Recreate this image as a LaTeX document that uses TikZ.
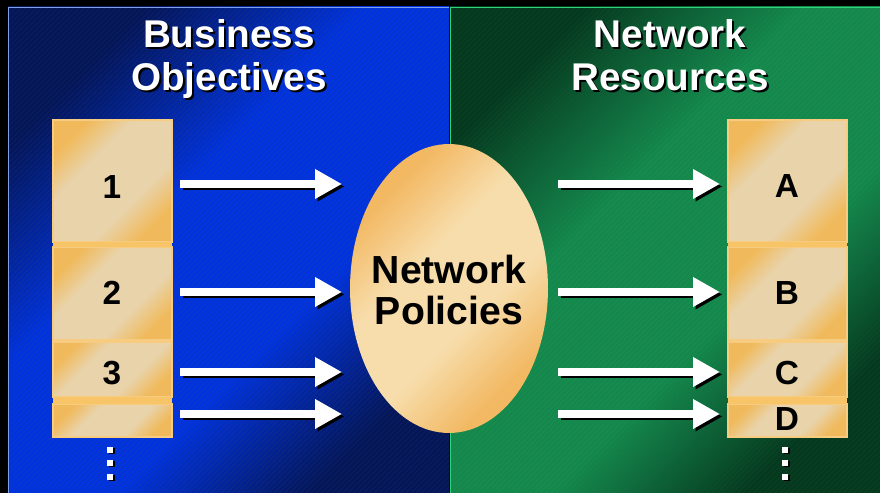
\documentclass[tikz,border=0pt]{standalone}
\usepackage{fontspec}
\setmainfont{Liberation Sans}
\usetikzlibrary{shapes.geometric, arrows.meta, calc, patterns}

\definecolor{bluedark}{HTML}{03165A}
\definecolor{bluemid}{HTML}{0033E0}
\definecolor{blueedge}{HTML}{7FA0E8}
\definecolor{greendark}{HTML}{033A1E}
\definecolor{greenmid}{HTML}{138C4E}
\definecolor{greenedge}{HTML}{2ED47A}
\definecolor{slablight}{HTML}{E9D3AA}
\definecolor{slaborange}{HTML}{F0BA5C}
\definecolor{slabedge}{HTML}{F8CC80}
\definecolor{slabband}{HTML}{F8C468}
\definecolor{egglight}{HTML}{F7DDAB}
\definecolor{eggorange}{HTML}{F2B862}

\pgfdeclareverticalshading{bluehalf}{100bp}{color(0bp)=(bluedark); color(25bp)=(bluedark);
  color(40bp)=(bluemid); color(58bp)=(bluemid); color(75bp)=(bluedark); color(100bp)=(bluedark)}
\pgfdeclareverticalshading{greenhalf}{100bp}{color(0bp)=(greendark); color(25bp)=(greendark);
  color(40bp)=(greenmid); color(58bp)=(greenmid); color(75bp)=(greendark); color(100bp)=(greendark)}
\pgfdeclareverticalshading{slabtone}{100bp}{color(0bp)=(slaborange); color(25bp)=(slaborange);
  color(38bp)=(slablight); color(62bp)=(slablight); color(75bp)=(slaborange); color(100bp)=(slaborange)}
\pgfdeclareverticalshading{eggtone}{100bp}{color(0bp)=(eggorange); color(27bp)=(eggorange);
  color(42bp)=(egglight); color(58bp)=(egglight); color(73bp)=(eggorange); color(100bp)=(eggorange)}

\begin{document}
\begin{tikzpicture}[x=0.02cm, y=-0.02cm,
    slab/.style={draw=slabedge, line width=0.6pt, shading=slabtone, shading angle=45},
    band/.style={fill=slabband},
    hatch/.style={pattern=north east lines, pattern color=black!70, opacity=0.18},
    fat/.style={draw=white, line width=4.5pt, -{Triangle[length=0.54cm, width=0.56cm]}},
    fatshadow/.style={fat, draw=black, transform canvas={shift={(2.5,2.5)}}},
    title/.style={align=center, inner sep=0pt, anchor=north, text=white,
      font=\fontsize{22}{24.4}\selectfont\bfseries},
    label/.style={font=\fontsize{19}{19}\selectfont\bfseries, inner sep=1pt}]

  \useasboundingbox (0,0) rectangle (880,493);
  \fill[black] (0,0) rectangle (880,493);

  % the two halves
  \shade[shading=bluehalf, shading angle=45] (8,7) rectangle (449,493);
  \fill[hatch] (8,7) rectangle (449,493);
  \draw[blueedge, line width=0.8pt] (8.5,493) -- (8.5,7.5) -- (449,7.5);
  \shade[shading=greenhalf, shading angle=45] (450,7) rectangle (880,493);
  \fill[hatch] (450,7) rectangle (880,493);
  \draw[greenedge, line width=0.8pt] (450.5,493) -- (450.5,7.5) -- (880,7.5);

  % titles
  \node[title, text=black] at (231,21) {Business\\Objectives};
  \node[title] (biz) at (229,19) {Business\\Objectives};
  \node[title, text=black] at (672,21) {Network\\Resources};
  \node[title] (res) at (670,19) {Network\\Resources};

  % left stack
  \path[slab] (53,120) rectangle (172,242);
  \path[slab] (53,247) rectangle (172,340);
  \path[slab] (53,342) rectangle (172,397);
  \path[slab] (53,404) rectangle (172,437);
  \fill[band] (53,242) rectangle (172,247);
  \fill[band] (53,397) rectangle (172,404);

  % right stack
  \path[slab] (728,120) rectangle (847,242);
  \path[slab] (728,247) rectangle (847,340);
  \path[slab] (728,342) rectangle (847,397);
  \path[slab] (728,404) rectangle (847,437);
  \fill[band] (728,242) rectangle (847,247);
  \fill[band] (728,397) rectangle (847,404);

  \node[label] (o1) at (112,187) {1};
  \node[label] (o2) at (112,293) {2};
  \node[label] (o3) at (112,373) {3};

  \node[label] (r1) at (787,186) {A};
  \node[label] (r2) at (787,293) {B};
  \node[label] (r3) at (787,373) {C};
  \node[label] (r4) at (787,419) {D};

  % policies
  \node[ellipse, minimum width=3.96cm, minimum height=5.78cm, inner sep=0pt,
    shading=eggtone, shading angle=45] (pol) at (449,288.5) {};
  \node[align=center, inner sep=0pt, anchor=north,
    font=\fontsize{22.3}{23.2}\selectfont\bfseries] (poltext) at (449,255) {Network\\Policies};

  % arrows
  \foreach \y [count=\i] in {184,292,372,414} {
    \coordinate (ls\i) at (180,\y);
    \coordinate (le\i) at (342,\y);
    \coordinate (rs\i) at (558,\y);
    \coordinate (re\i) at (720,\y);
    \draw[fatshadow] (ls\i) -- (le\i);
    \draw[fat] (ls\i) -- (le\i);
    \draw[fatshadow] (rs\i) -- (re\i);
    \draw[fat] (rs\i) -- (re\i);
  }

  % more below
  \foreach \y in {447,460,474} {
    \fill[black] (109,\y+1.5) rectangle ++(6,6);
    \fill[white] (107,\y) rectangle ++(6,6);
    \fill[black] (784,\y+1.5) rectangle ++(6,6);
    \fill[white] (782,\y) rectangle ++(6,6);
  }
\end{tikzpicture}
\end{document}
